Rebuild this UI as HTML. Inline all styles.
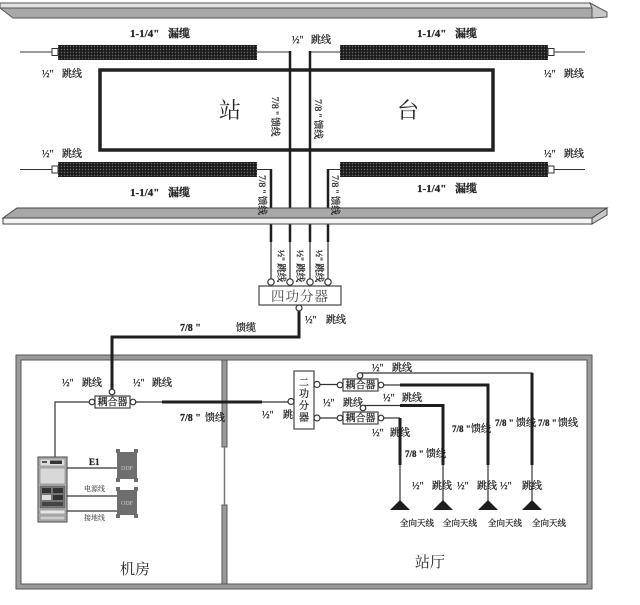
<!DOCTYPE html>
<html><head><meta charset="utf-8">
<style>
html,body{margin:0;padding:0;background:#fff;}
svg{display:block;}
text{font-family:"Liberation Serif","Noto Serif CJK SC",serif;fill:#222;stroke:#222;stroke-width:0.25;}
.b{font-weight:bold;}
.ns{stroke:none;}
</style></head><body>
<svg width="640" height="605" viewBox="0 0 640 605" xmlns="http://www.w3.org/2000/svg">
<defs>
<pattern id="dots" width="3" height="3" patternUnits="userSpaceOnUse">
<rect width="3" height="3" fill="#1c1c1c"/>
<circle cx="1.5" cy="1.5" r="0.7" fill="#6a6a6a"/>
</pattern>
</defs>
<rect width="640" height="605" fill="#fff"/>

<!-- top beam -->
<polygon points="0,3 590,3 592,8 0,8" fill="#e2e2e2" stroke="#555" stroke-width="1"/>
<polygon points="0,8 592,8 592,18 13,18" fill="#a8a8a8" stroke="#555" stroke-width="1"/>
<polygon points="590,3 607,12 607,17 592,18 592,8" fill="#c8c8c8" stroke="#555" stroke-width="1"/>

<!-- station rect -->
<rect x="100" y="70" width="393" height="80" fill="none" stroke="#222" stroke-width="3.5"/>
<text x="230" y="118" font-size="22" text-anchor="middle" class="ns">站</text>
<text x="408" y="118" font-size="22" text-anchor="middle" class="ns">台</text>

<!-- leaky cables -->
<g stroke="#333" stroke-width="1" fill="none">
<line x1="20" y1="52" x2="52" y2="52"/>
<line x1="257" y1="52" x2="291" y2="52"/>
<line x1="309" y1="52" x2="340" y2="52"/>
<line x1="554" y1="52" x2="585" y2="52"/>
<line x1="20" y1="169.5" x2="52" y2="169.5"/>
<line x1="257" y1="169.5" x2="271" y2="169.5"/>
<line x1="328" y1="169.5" x2="340" y2="169.5"/>
<line x1="554" y1="169.5" x2="585" y2="169.5"/>
</g>
<rect x="58" y="45" width="199" height="15" fill="url(#dots)"/>
<rect x="340" y="45" width="208" height="15" fill="url(#dots)"/>
<rect x="58" y="162" width="199" height="15" fill="url(#dots)"/>
<rect x="340" y="162" width="208" height="15" fill="url(#dots)"/>
<g fill="#fff" stroke="#333" stroke-width="1">
<rect x="52" y="48.5" width="6" height="7"/>
<rect x="548" y="48.5" width="6" height="7"/>
<rect x="52" y="166" width="6" height="7"/>
<rect x="548" y="166" width="6" height="7"/>
</g>

<!-- vertical feeders -->
<g stroke="#1e1e1e" stroke-width="2.5" fill="none">
<line x1="290" y1="51" x2="290" y2="242"/>
<line x1="310" y1="51" x2="310" y2="242"/>
<line x1="271" y1="169" x2="271" y2="242"/>
<line x1="328" y1="169" x2="328" y2="242"/>
</g>
<g stroke="#444" stroke-width="1.3" fill="none">
<line x1="290" y1="242" x2="290" y2="279"/>
<line x1="310" y1="242" x2="310" y2="279"/>
<line x1="271" y1="242" x2="271" y2="279"/>
<line x1="328" y1="242" x2="328" y2="279"/>
</g>

<!-- bottom beam -->
<polygon points="17,208 607,208 592,218 3,218" fill="#a8a8a8" stroke="#444" stroke-width="1"/>
<polygon points="3,218 592,218 592,224 3,224" fill="#f4f4f4" stroke="#444" stroke-width="1"/>
<polygon points="607,208 607,215 592,224 592,218" fill="#c8c8c8" stroke="#444" stroke-width="1"/>

<!-- top labels -->
<g class="b" font-size="11">
<text x="130" y="37">1-1/4"</text><text x="168" y="37">漏缆</text>
<text x="417" y="37">1-1/4"</text><text x="455" y="37">漏缆</text>
<text x="130" y="196">1-1/4"</text><text x="168" y="196">漏缆</text>
<text x="417" y="192">1-1/4"</text><text x="455" y="192">漏缆</text>
</g>
<g font-size="10">
<text x="42" y="77">½"</text><text x="62" y="77">跳线</text>
<text x="42" y="157">½"</text><text x="62" y="157">跳线</text>
<text x="544" y="77">½"</text><text x="564" y="77">跳线</text>
<text x="544" y="157">½"</text><text x="564" y="157">跳线</text>
<text x="292" y="43">½"</text><text x="311" y="43">跳线</text>
</g>
<g font-size="9.5">
<text transform="translate(272,116.5) rotate(90)" text-anchor="middle">7/8 " 馈线</text>
<text transform="translate(315,119) rotate(90)" text-anchor="middle">7/8 " 馈线</text>
<text transform="translate(259,195) rotate(90)" text-anchor="middle">7/8 " 馈线</text>
<text transform="translate(332,195) rotate(90)" text-anchor="middle">7/8 " 馈线</text>
<text transform="translate(278,266) rotate(90)" text-anchor="middle">½"  跳线</text>
<text transform="translate(297,266) rotate(90)" text-anchor="middle">½"  跳线</text>
<text transform="translate(316,266) rotate(90)" text-anchor="middle">½"  跳线</text>
</g>

<!-- 4-way splitter -->
<g fill="#fff" stroke="#333" stroke-width="1.2">
<circle cx="271" cy="282" r="3.2"/>
<circle cx="290" cy="282" r="3.2"/>
<circle cx="310" cy="282" r="3.2"/>
<circle cx="328" cy="282" r="3.2"/>
</g>
<rect x="259" y="286" width="82" height="19" fill="#fff" stroke="#444" stroke-width="1.2"/>
<text x="300" y="301" font-size="13.5" text-anchor="middle" class="ns" style="fill:#444" letter-spacing="1">四功分器</text>

<!-- building -->
<rect x="16" y="355" width="576" height="234" fill="#9a9a9a" stroke="#555" stroke-width="1"/>
<rect x="21" y="360" width="566" height="224" fill="#fff" stroke="#555" stroke-width="1"/>
<rect x="222" y="360" width="5" height="87" fill="#9a9a9a" stroke="#555" stroke-width="1"/>
<rect x="222" y="505" width="5" height="79" fill="#9a9a9a" stroke="#555" stroke-width="1"/>
<line x1="224.5" y1="447" x2="224.5" y2="505" stroke="#777" stroke-width="1.5"/>

<!-- main feeder -->
<path d="M299,311 V337 H112 V389" fill="none" stroke="#1e1e1e" stroke-width="3"/>
<circle cx="299" cy="308" r="3" fill="#fff" stroke="#333" stroke-width="1.2"/>
<g font-size="10">
<text x="180" y="331" class="b">7/8 "</text><text x="236" y="331">馈缆</text>
<text x="305" y="323">½"</text><text x="326" y="323">跳线</text>
</g>

<!-- machine room -->
<path d="M89,402 H55 V457" fill="none" stroke="#333" stroke-width="1.2"/>
<line x1="136" y1="402" x2="162" y2="402" stroke="#333" stroke-width="1.2"/>
<line x1="162" y1="402" x2="262" y2="402" stroke="#1e1e1e" stroke-width="3"/>
<line x1="262" y1="402" x2="288" y2="402" stroke="#333" stroke-width="1.2"/>
<rect x="95" y="396" width="35" height="12" fill="#fff" stroke="#444" stroke-width="1.2"/>
<text x="112.5" y="405.5" font-size="10" text-anchor="middle">耦合器</text>
<g fill="#fff" stroke="#333" stroke-width="1.2">
<circle cx="112" cy="392" r="2.8"/>
<circle cx="92" cy="402" r="2.8"/>
<circle cx="133" cy="402" r="2.8"/>
</g>
<g font-size="10">
<text x="62" y="386">½"</text><text x="82" y="386">跳线</text>
<text x="133" y="386">½"</text><text x="152" y="386">跳线</text>
<text x="180" y="421" class="b">7/8 "</text><text x="205" y="421">馈线</text>
</g>

<!-- cabinet -->
<rect x="38" y="457" width="29" height="65" fill="#b8b8b8" stroke="#444" stroke-width="1"/>
<rect x="40" y="459" width="25" height="7" fill="#ddd" stroke="#666" stroke-width="0.5"/>
<rect x="50" y="460.5" width="12" height="3.5" fill="#333"/>
<rect x="42" y="461" width="5" height="2" fill="#555"/>
<rect x="40" y="468" width="25" height="16" fill="#d8d8d8" stroke="#666" stroke-width="0.5"/>
<rect x="40" y="486" width="25" height="22" fill="#777" stroke="#555" stroke-width="0.5"/>
<rect x="42" y="488" width="9" height="5" fill="#333"/>
<rect x="53" y="488" width="10" height="5" fill="#333"/>
<rect x="42" y="495" width="9" height="5" fill="#ddd"/>
<rect x="53" y="495" width="10" height="5" fill="#333"/>
<rect x="42" y="502" width="21" height="4" fill="#444"/>
<rect x="40" y="510" width="25" height="4" fill="#e6e6e6" stroke="#666" stroke-width="0.5"/>
<rect x="40" y="516" width="25" height="4" fill="#ccc" stroke="#666" stroke-width="0.5"/>

<!-- DDF/ODF -->
<g fill="#6e6e6e">
<rect x="117" y="452" width="20" height="27"/>
<rect x="116" y="449" width="4" height="4"/><rect x="134" y="449" width="4" height="4"/>
<rect x="116" y="478" width="4" height="4"/><rect x="134" y="478" width="4" height="4"/>
<rect x="117" y="490" width="20" height="25"/>
<rect x="116" y="487" width="4" height="4"/><rect x="134" y="487" width="4" height="4"/>
<rect x="116" y="514" width="4" height="4"/><rect x="134" y="514" width="4" height="4"/>
</g>
<text x="127" y="470" font-size="6" text-anchor="middle" class="ns" style="fill:#ccc">DDF</text>
<text x="127" y="505" font-size="6" text-anchor="middle" class="ns" style="fill:#ccc">ODF</text>
<g stroke="#333" stroke-width="1.2">
<line x1="67" y1="468" x2="117" y2="468"/>
<line x1="67" y1="496" x2="117" y2="496"/>
<line x1="67" y1="511" x2="117" y2="511"/>
</g>
<text x="89" y="465" font-size="9" class="b">E1</text>
<text x="84" y="491" font-size="7" class="ns">电源线</text>
<text x="84" y="520" font-size="7" class="ns">接地线</text>
<text x="135" y="574" font-size="15" text-anchor="middle" class="ns">机房</text>

<!-- hall labels (behind boxes) -->
<g font-size="10">
<text x="262" y="418">½"</text><text x="283" y="418">跳线</text>
<text x="323" y="406">½"</text><text x="343" y="406">跳线</text>
<text x="372" y="371">½"</text><text x="392" y="371">跳线</text>
<text x="383" y="401">½"</text><text x="402" y="401">跳线</text>
<text x="372" y="436">½"</text><text x="390" y="436">跳线</text>
</g>

<!-- 2-way splitter -->
<rect x="294" y="371" width="20" height="58" fill="#fff" stroke="#444" stroke-width="1.2"/>
<g font-size="10" text-anchor="middle">
<text x="304" y="386">二</text>
<text x="304" y="397">功</text>
<text x="304" y="409">分</text>
<text x="304" y="421">器</text>
</g>
<g stroke="#333" stroke-width="1.2" fill="none">
<line x1="320" y1="384.5" x2="337" y2="384.5"/>
<line x1="320" y1="418" x2="337" y2="418"/>
<path d="M360,373 H532 V465"/>
<line x1="384" y1="385" x2="400" y2="385"/>
<line x1="363" y1="405.5" x2="400" y2="405.5"/>
<path d="M384,418 H400"/>
</g>
<g stroke="#1e1e1e" stroke-width="3" fill="none">
<path d="M400,385 H488 V465"/>
<path d="M400,405.5 H443 V465"/>
<path d="M400,418 V465"/>
<line x1="532" y1="373" x2="532" y2="465"/>
</g>
<g stroke="#333" stroke-width="1.2">
<line x1="400" y1="465" x2="400" y2="501"/>
<line x1="443" y1="465" x2="443" y2="501"/>
<line x1="488" y1="465" x2="488" y2="501"/>
<line x1="532" y1="465" x2="532" y2="501"/>
</g>
<rect x="343" y="379" width="35" height="12" fill="#fff" stroke="#444" stroke-width="1.2"/>
<text x="360.5" y="388.5" font-size="10" text-anchor="middle">耦合器</text>
<rect x="343" y="412" width="35" height="12" fill="#fff" stroke="#444" stroke-width="1.2"/>
<text x="360.5" y="421.5" font-size="10" text-anchor="middle">耦合器</text>
<g fill="#fff" stroke="#333" stroke-width="1.2">
<circle cx="291" cy="401.5" r="3"/>
<circle cx="317" cy="384.5" r="3"/>
<circle cx="317" cy="418" r="3"/>
<circle cx="340" cy="385" r="2.8"/>
<circle cx="381" cy="385" r="2.8"/>
<circle cx="360" cy="375.5" r="2.8"/>
<circle cx="340" cy="418" r="2.8"/>
<circle cx="381" cy="418" r="2.8"/>
<circle cx="363" cy="408" r="2.8"/>
</g>

<!-- antennas -->
<g fill="#1e1e1e">
<polygon points="400,500 390,510 410,510"/>
<polygon points="443,500 433,510 453,510"/>
<polygon points="488,500 478,510 498,510"/>
<polygon points="532,500 522,510 542,510"/>
</g>
<g font-size="8.5">
<text x="400" y="526">全向天线</text>
<text x="443" y="526">全向天线</text>
<text x="488" y="526">全向天线</text>
<text x="532" y="526">全向天线</text>
</g>
<g font-size="10">
<text x="412" y="489">½"</text><text x="432" y="489">跳线</text>
<text x="457" y="489">½"</text><text x="477" y="489">跳线</text>
<text x="500" y="489">½"</text><text x="522" y="489">跳线</text>
<text x="405" y="457" class="b" font-size="9">7/8 "</text><text x="426" y="457">馈线</text>
<text x="452" y="432" class="b" font-size="9">7/8 "</text><text x="471" y="432">馈线</text>
<text x="495" y="426" class="b" font-size="9">7/8 "</text><text x="516" y="426">馈线</text>
<text x="538" y="426" class="b" font-size="9">7/8 "</text><text x="558" y="426">馈线</text>
</g>
<text x="430" y="567" font-size="15" text-anchor="middle" class="ns">站厅</text>
</svg>
</body></html>
